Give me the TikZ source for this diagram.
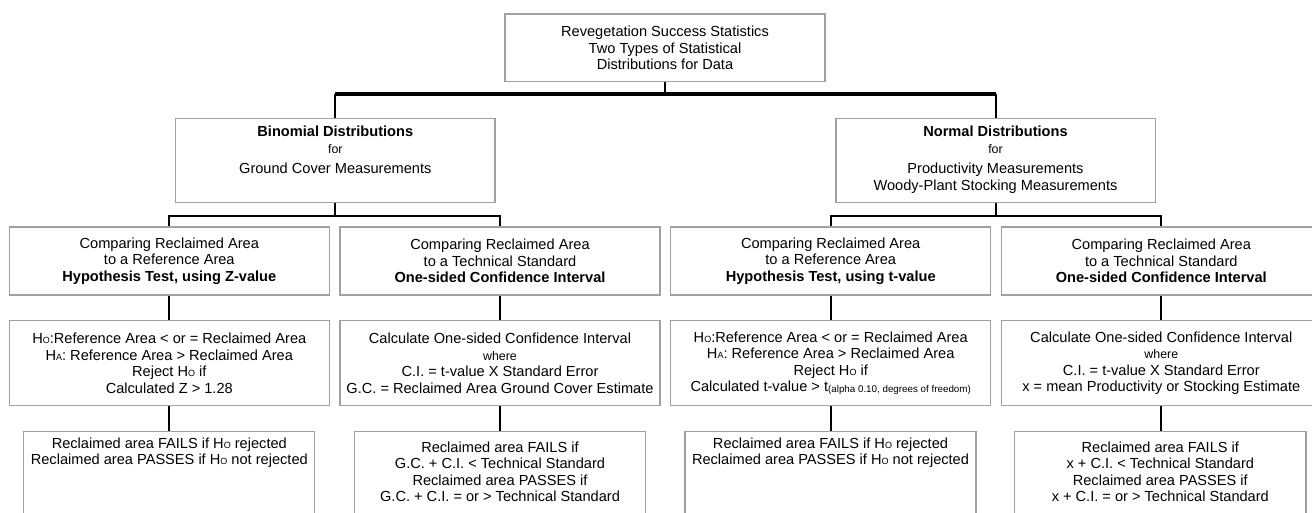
\documentclass[tikz,border=0pt]{standalone}
\usepackage{fontspec}
\setmainfont{Liberation Sans}
\newcommand\msz{\fontsize{14.6}{16.5}\selectfont}
\newcommand\ssz{\fontsize{12.4}{14}\selectfont}
\newcommand\tsz{\fontsize{9.8}{11}\selectfont}
\newcommand\hsub[1]{{\fontsize{9}{10}\selectfont #1}}
\definecolor{boxgray}{HTML}{A0A0A0}
\begin{document}
\begin{tikzpicture}[x=1pt,y=-1pt,
  box/.style={draw=boxgray,line width=1.3pt,inner sep=0pt,font=\msz},
  conn/.style={line width=2pt,black},
  busline/.style={line width=3.4pt,black}]
\useasboundingbox (0,0) rectangle (1312,513);
\clip (0,0) rectangle (1312,513);

% level 0
\node[box] (T) at (665,47.9) {\parbox[c][67.7pt][c]{320pt}{\centering
  Revegetation Success Statistics\\Two Types of Statistical\\Distributions for Data}};

% level 1
\node[box] (B) at (335.3,160.3) {\parbox[c][84pt][t]{319.3pt}{\centering\vspace*{8pt}
  \textbf{Binomial Distributions}\\[0.5pt]{\ssz for}\\[3.5pt]Ground Cover Measurements}};
\node[box] (N) at (995.5,160.3) {\parbox[c][84pt][t]{319.3pt}{\centering\vspace*{8pt}
  \textbf{Normal Distributions}\\[0.5pt]{\ssz for}\\[3.5pt]Productivity Measurements\\Woody-Plant Stocking Measurements}};

% level 2
\node[box] (A3) at (169.3,261) {\parbox[c][68pt][c]{320pt}{\centering
  Comparing Reclaimed Area\\to a Reference Area\\\textbf{Hypothesis Test, using Z-value}}};
\node[box] (B3) at (500,261) {\parbox[c][68pt][c]{320pt}{\centering
  Comparing Reclaimed Area\\to a Technical Standard\\\textbf{One-sided Confidence Interval}}};
\node[box] (C3) at (830.7,261) {\parbox[c][68pt][c]{320pt}{\centering
  Comparing Reclaimed Area\\to a Reference Area\\\textbf{Hypothesis Test, using t-value}}};
\node[box] (D3) at (1161.3,261) {\parbox[c][68pt][c]{320pt}{\centering
  Comparing Reclaimed Area\\to a Technical Standard\\\textbf{One-sided Confidence Interval}}};

% level 3
\node[box] (A4) at (169.3,363.2) {\parbox[c][84.8pt][c]{320pt}{\centering
  H\hsub{O}:Reference Area < or = Reclaimed Area\\H\hsub{A}: Reference Area > Reclaimed Area\\Reject H\hsub{O} if\\Calculated Z > 1.28}};
\node[box] (B4) at (500,363.2) {\parbox[c][84.8pt][c]{320pt}{\centering
  Calculate One-sided Confidence Interval\\{\ssz where}\\C.I. = t-value X Standard Error\\G.C. = Reclaimed Area Ground Cover Estimate}};
\node[box] (C4) at (830.7,363.2) {\parbox[c][84.8pt][c]{320pt}{\centering
  H\hsub{O}:Reference Area < or = Reclaimed Area\\H\hsub{A}: Reference Area > Reclaimed Area\\Reject H\hsub{O} if\\Calculated t-value > t\raisebox{-1pt}{\tsz(alpha 0.10, degrees of freedom)}}};
\node[box] (D4) at (1161.3,363.2) {\parbox[c][84.8pt][c]{320pt}{\centering
  Calculate One-sided Confidence Interval\\{\ssz where}\\C.I. = t-value X Standard Error\\x = mean Productivity or Stocking Estimate}};

% level 4
\node[box] (A5) at (169.3,486.6) {\parbox[c][110pt][t]{291pt}{\centering\vspace*{6pt}
  Reclaimed area FAILS if H\hsub{O} rejected\\Reclaimed area PASSES if H\hsub{O} not rejected}};
\node[box] (B5) at (500,486.6) {\parbox[c][110pt][t]{291.5pt}{\centering\vspace*{10pt}
  Reclaimed area FAILS if\\G.C. + C.I. < Technical Standard\\Reclaimed area PASSES if\\G.C. + C.I. = or > Technical Standard}};
\node[box] (C5) at (830.5,486.6) {\parbox[c][110pt][t]{291pt}{\centering\vspace*{6pt}
  Reclaimed area FAILS if H\hsub{O} rejected\\Reclaimed area PASSES if H\hsub{O} not rejected}};
\node[box] (D5) at (1160.3,486.6) {\parbox[c][110pt][t]{291.5pt}{\centering\vspace*{10pt}
  Reclaimed area FAILS if\\x + C.I. < Technical Standard\\Reclaimed area PASSES if\\x + C.I. = or > Technical Standard}};

% connectors
\coordinate (bus0) at (665,94);
\coordinate (bus1) at (335,215.7);
\coordinate (bus2) at (995,215.7);

\draw[conn] (T.south) -- (T.south |- bus0);
\draw[busline] (B.north |- bus0) -- (N.north |- bus0);
\draw[conn] (B.north |- bus0) -- (B.north);
\draw[conn] (N.north |- bus0) -- (N.north);

\draw[conn] (B.south) -- (B.south |- bus1);
\draw[conn] (A3.north) -- (A3.north |- bus1) -- (B3.north |- bus1) -- (B3.north);
\draw[conn] (N.south) -- (N.south |- bus2);
\draw[conn] (C3.north) -- (C3.north |- bus2) -- (D3.north |- bus2) -- (D3.north);

\draw[conn] (A3.south) -- (A4.north);
\draw[conn] (B3.south) -- (B4.north);
\draw[conn] (C3.south) -- (C4.north);
\draw[conn] (D3.south) -- (D4.north);
\draw[conn] (A4.south) -- (A4.south |- A5.north);
\draw[conn] (B4.south) -- (B4.south |- B5.north);
\draw[conn] (C4.south) -- (C4.south |- C5.north);
\draw[conn] (D4.south) -- (D4.south |- D5.north);
\end{tikzpicture}
\end{document}
